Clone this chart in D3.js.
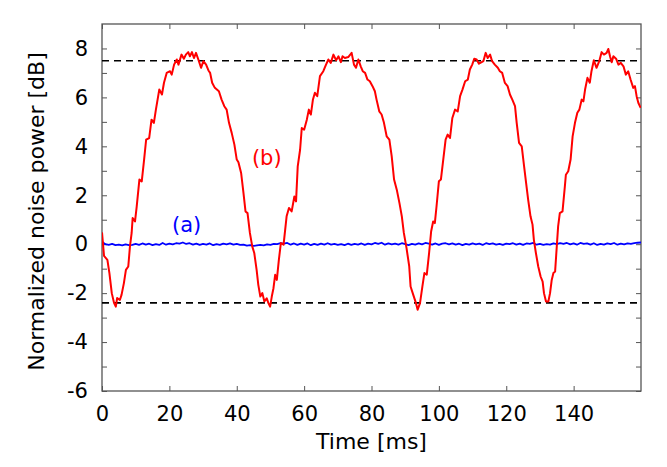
<!DOCTYPE html>
<html>
<head>
<meta charset="utf-8">
<script src="https://cdn.jsdelivr.net/npm/d3@7"></script>
<style>
  body { margin: 0; background: #fff; }
  #chart { width: 667px; height: 467px; }
  text { font-family: "DejaVu Sans", sans-serif; }
</style>
</head>
<body>
<div id="chart"></div>
<script>
// time axis of trace (b), ms
const redTime = [
  0, 0.6, 1.6, 2.2, 2.9, 3.6, 4.1, 4.5, 5.3, 5.8, 6.5, 7.1, 7.8, 8.3, 8.8, 9.1, 9.8, 10.3, 11.1, 11.8,
  12.5, 13.1, 14.0, 14.7, 15.4, 16.0, 17.0, 17.8, 18.4, 19.2, 20.2, 20.7, 21.4, 22.2, 22.7, 23.6, 24.3, 24.9, 25.6, 26.1,
  26.7, 27.3, 27.9, 28.6, 29.4, 30.1, 30.9, 31.6, 32.1, 32.7, 33.5, 34.7, 35.5, 36.3, 37.0, 37.7, 38.5, 39.3, 40.0, 40.5,
  41.3, 42.0, 42.6, 43.2, 43.9, 44.6, 45.2, 45.9, 46.4, 47.0, 47.6, 48.2, 48.9, 49.4, 49.9, 50.4, 50.9, 51.4, 51.9, 52.5,
  53.1, 53.9, 54.8, 55.5, 56.3, 57.1, 57.6, 58.1, 58.8, 59.3, 60.0, 60.8, 61.4, 62.0, 62.6, 63.2, 63.9, 64.7, 65.7, 66.5,
  67.2, 67.9, 68.7, 69.5, 70.2, 70.9, 71.4, 72.1, 73.1, 74.1, 74.8, 75.4, 76.1, 76.8, 77.4, 78.1, 78.8, 79.5, 80.3, 81.0,
  81.5, 82.3, 83.0, 83.7, 84.5, 85.3, 86.0, 86.7, 87.5, 88.3, 89.0, 89.6, 90.4, 91.2, 91.6, 92.4, 93.2, 93.7, 94.4, 95.1,
  95.7, 96.4, 97.1, 97.7, 98.3, 98.8, 99.3, 100.0, 100.6, 101.3, 102.0, 102.6, 103.3, 104.0, 104.8, 105.6, 106.3, 107.0, 107.8, 108.6,
  109.2, 109.9, 110.5, 111.2, 111.9, 112.7, 113.2, 113.9, 114.5, 115.2, 115.8, 116.6, 117.5, 118.1, 118.8, 119.6, 120.4, 121.1, 121.8, 122.6,
  123.1, 123.8, 124.6, 125.3, 125.9, 126.5, 127.2, 127.8, 128.2, 128.8, 129.5, 130.2, 130.8, 131.2, 131.8, 132.5, 133.0, 133.5, 134.0, 134.5,
  135.0, 135.4, 135.9, 136.7, 137.4, 137.7, 138.4, 139.1, 139.7, 140.4, 141.1, 141.7, 142.4, 142.9, 143.4, 144.1, 144.8, 145.3, 146.0, 146.8,
  147.6, 148.3, 149.0, 149.8, 150.3, 150.8, 151.3, 151.8, 152.6, 153.3, 154.0, 154.8, 155.5, 156.2, 156.9, 157.7, 158.2, 158.7, 159.2, 159.9
];
// normalized noise power of trace (b), dB
const redPower = [
  0.48, -0.48, -0.64, -1.18, -2.00, -2.41, -2.55, -2.20, -2.28, -2.07, -1.59, -1.05, -0.91, -0.09, 0.46, 1.07, 0.93, 1.54, 2.64, 2.57,
  3.46, 4.27, 4.34, 5.09, 4.96, 5.50, 6.32, 6.12, 6.60, 7.00, 7.07, 6.93, 7.34, 7.55, 7.34, 7.75, 7.58, 7.75, 7.85, 7.68,
  7.85, 7.61, 7.82, 7.55, 7.21, 7.48, 7.34, 7.10, 7.00, 6.60, 6.39, 6.25, 5.91, 5.64, 5.50, 4.96, 4.55, 4.07, 3.46, 3.35,
  2.91, 2.09, 1.34, 1.27, 0.46, -0.09, -0.36, -1.05, -1.66, -2.14, -2.00, -2.34, -2.21, -2.41, -2.55, -2.14, -1.80, -1.25, -1.46, -0.64,
  0.05, -0.02, 1.14, 1.48, 1.34, 1.95, 1.75, 3.18, 3.86, 4.75, 4.68, 5.09, 5.50, 5.30, 5.90, 6.19, 6.05, 6.87, 7.07, 7.34,
  7.55, 7.41, 7.75, 7.52, 7.68, 7.44, 7.68, 7.61, 7.65, 7.82, 7.34, 7.21, 7.55, 7.27, 7.07, 7.00, 6.73, 6.66, 6.46, 6.25,
  5.91, 5.43, 5.30, 4.96, 4.41, 4.27, 3.59, 2.64, 2.23, 1.68, 1.14, 0.46, -0.16, -0.91, -1.73, -2.07, -2.41, -2.68, -2.41, -1.73,
  -1.18, -1.25, -0.36, 0.52, 0.93, 0.86, 1.54, 2.57, 2.64, 3.46, 4.27, 4.48, 4.34, 5.16, 5.50, 5.43, 6.05, 6.32, 6.66, 6.73,
  7.14, 7.34, 7.58, 7.55, 7.38, 7.44, 7.48, 7.82, 7.61, 7.75, 7.48, 7.34, 7.21, 7.07, 7.00, 6.59, 6.46, 6.12, 5.91, 5.64,
  4.96, 4.14, 4.00, 3.18, 2.50, 1.82, 1.14, 0.80, 0.18, -0.36, -0.91, -1.32, -1.53, -2.00, -2.34, -2.34, -2.00, -1.46, -1.18, -1.12,
  -0.09, 0.73, 1.27, 1.34, 2.36, 2.84, 2.98, 3.46, 4.41, 4.96, 5.37, 5.50, 5.91, 5.84, 6.32, 6.80, 6.60, 7.07, 7.52, 7.21,
  7.48, 7.85, 7.75, 7.82, 7.98, 7.68, 7.44, 7.68, 7.58, 7.34, 7.41, 7.27, 6.93, 7.07, 6.73, 6.39, 6.46, 6.05, 5.78, 5.57
];
// trace (a), one sample per ms from 0 to 160
const blueTime = d3.range(0, 161, 1);
const bluePower = [
  0.10, 0.00, -0.03, 0.01, -0.04, -0.02, -0.05, -0.01, -0.04, -0.03, 0.01, -0.03, 0.03, -0.02, 0.02, -0.04, 0.00, -0.03, 0.05, -0.02,
  0.02, -0.01, 0.04, 0.02, 0.07, 0.01, 0.04, -0.02, 0.02, -0.03, 0.01, -0.02, 0.03, -0.04, 0.00, -0.03, 0.02, -0.01, 0.03, -0.02,
  0.01, -0.03, -0.02, -0.06, -0.04, -0.07, -0.05, -0.03, -0.05, -0.01, -0.03, 0.01, 0.00, 0.04, 0.02, 0.05, -0.02, 0.03, -0.03, 0.02,
  -0.02, 0.03, -0.04, 0.01, -0.03, 0.02, -0.02, 0.04, -0.02, 0.01, -0.03, 0.00, -0.04, 0.02, -0.03, 0.01, -0.02, 0.03, -0.03, 0.02,
  -0.01, 0.05, 0.01, 0.06, -0.02, 0.03, -0.01, 0.02, -0.02, 0.04, 0.00, -0.04, 0.01, -0.02, 0.03, -0.01, 0.05, 0.02, -0.02, 0.03,
  -0.03, 0.02, 0.04, -0.01, 0.03, -0.02, 0.02, -0.04, 0.01, -0.02, 0.03, -0.01, 0.02, -0.03, 0.04, 0.00, 0.03, -0.02, 0.01, -0.03,
  0.02, 0.00, 0.04, -0.02, 0.02, -0.03, 0.03, 0.01, 0.05, -0.02, 0.01, -0.03, 0.00, -0.02, 0.03, 0.00, 0.04, 0.01, 0.05, -0.01,
  0.03, -0.02, 0.05, 0.01, 0.03, -0.02, 0.04, -0.03, 0.01, -0.02, 0.03, 0.00, 0.05, -0.02, 0.02, -0.01, 0.03, 0.01, 0.04, 0.06,
  0.07
];
// dashed reference levels, dB
const refLevels = [7.5, -2.4];
const xTicks = [0, 20, 40, 60, 80, 100, 120, 140];
const yTicks = [-6, -5, -4, -3, -2, -1, 0, 1, 2, 3, 4, 5, 6, 7, 8];
const traceLabels = [
  {text: "(a)", t: 20.8, v: 0.5, color: "#0000ff"},
  {text: "(b)", t: 44.5, v: 3.25, color: "#ff0000"}
];

function LineChart() {

    let self = this;

    self.initialize = function(conf) {
        self.el = document.getElementById(conf.el);
        self.graphWidth = 667;
        self.graphHeight = 467;
        self.margin = {top: 24, right: 26, bottom: 76, left: 102};
        self.width = self.graphWidth - self.margin.left - self.margin.right;
        self.height = self.graphHeight - self.margin.top - self.margin.bottom;

        self.x = d3.scaleLinear().domain([0, 160]).range([0, self.width]);
        self.y = d3.scaleLinear().domain([-6, 9]).range([self.height, 0]);

        self.render();
    }

    self.render = function() {
        self.svg = d3.select(self.el).append("svg")
            .attr("width", self.graphWidth)
            .attr("height", self.graphHeight)
            .append("g")
            .attr("transform", "translate(" + self.margin.left + "," + self.margin.top + ")");

        self.svg.append("clipPath").attr("id", "plotClip")
            .append("rect").attr("width", self.width).attr("height", self.height);

        self.renderAxes();
        self.renderLines();
        self.renderLabels();
    }

    self.renderAxes = function() {
        let s = self.svg;
        let tick = 5;

        let bottom = s.append("g").attr("transform", "translate(0," + self.height + ")")
            .call(d3.axisBottom(self.x).tickValues(xTicks).tickSizeInner(-tick).tickSizeOuter(0).tickPadding(15));
        let top = s.append("g")
            .call(d3.axisTop(self.x).tickValues(xTicks).tickSizeInner(-tick).tickSizeOuter(0).tickFormat(""));
        let left = s.append("g")
            .call(d3.axisLeft(self.y).tickValues(yTicks).tickSizeInner(-tick).tickSizeOuter(0).tickPadding(14)
                .tickFormat(d => d % 2 === 0 ? d : ""));
        let right = s.append("g").attr("transform", "translate(" + self.width + ",0)")
            .call(d3.axisRight(self.y).tickValues(yTicks).tickSizeInner(-tick).tickSizeOuter(0).tickFormat(""));

        [bottom, top, left, right].forEach(g => {
            g.select(".domain").remove();
            g.selectAll(".tick line").attr("stroke", "#555").attr("stroke-width", 1);
            g.selectAll(".tick text").attr("font-size", 21).attr("fill", "#000")
                .attr("font-family", "DejaVu Sans, sans-serif");
        });

        s.append("rect")
            .attr("width", self.width).attr("height", self.height)
            .attr("fill", "none").attr("stroke", "#555").attr("stroke-width", 1.3);

        s.append("text")
            .attr("x", self.width / 2).attr("y", self.height + 58)
            .attr("text-anchor", "middle").attr("font-size", 22)
            .text("Time [ms]");

        s.append("text")
            .attr("transform", "translate(-58," + (self.height / 2 + 4) + ") rotate(-90)")
            .attr("text-anchor", "middle").attr("font-size", 22)
            .text("Normalized noise power [dB]");
    }

    self.renderLines = function() {
        let plot = self.svg.append("g").attr("clip-path", "url(#plotClip)");

        plot.selectAll("line.ref")
            .data(refLevels)
            .enter()
            .append("line")
            .attr("class", "ref")
            .attr("x1", 0).attr("x2", self.width)
            .attr("y1", d => self.y(d)).attr("y2", d => self.y(d))
            .attr("stroke", "#000").attr("stroke-width", 1.6)
            .attr("stroke-dasharray", "7,5");

        let line = d3.line()
            .x(d => self.x(d[0]))
            .y(d => self.y(d[1]));

        plot.append("path")
            .datum(d3.zip(blueTime, bluePower))
            .attr("fill", "none").attr("stroke", "#0000ff").attr("stroke-width", 1.8)
            .attr("stroke-linejoin", "round")
            .attr("d", line);

        plot.append("path")
            .datum(d3.zip(redTime, redPower))
            .attr("fill", "none").attr("stroke", "#ff0000").attr("stroke-width", 2)
            .attr("stroke-linejoin", "round")
            .attr("d", line);
    }

    self.renderLabels = function() {
        self.svg.selectAll("text.trace")
            .data(traceLabels)
            .enter()
            .append("text")
            .attr("class", "trace")
            .attr("x", d => self.x(d.t))
            .attr("y", d => self.y(d.v))
            .attr("font-size", 21)
            .attr("fill", d => d.color)
            .text(d => d.text);
    }
}

let chart = new LineChart();
chart.initialize({el: "chart"});
</script>
</body>
</html>
